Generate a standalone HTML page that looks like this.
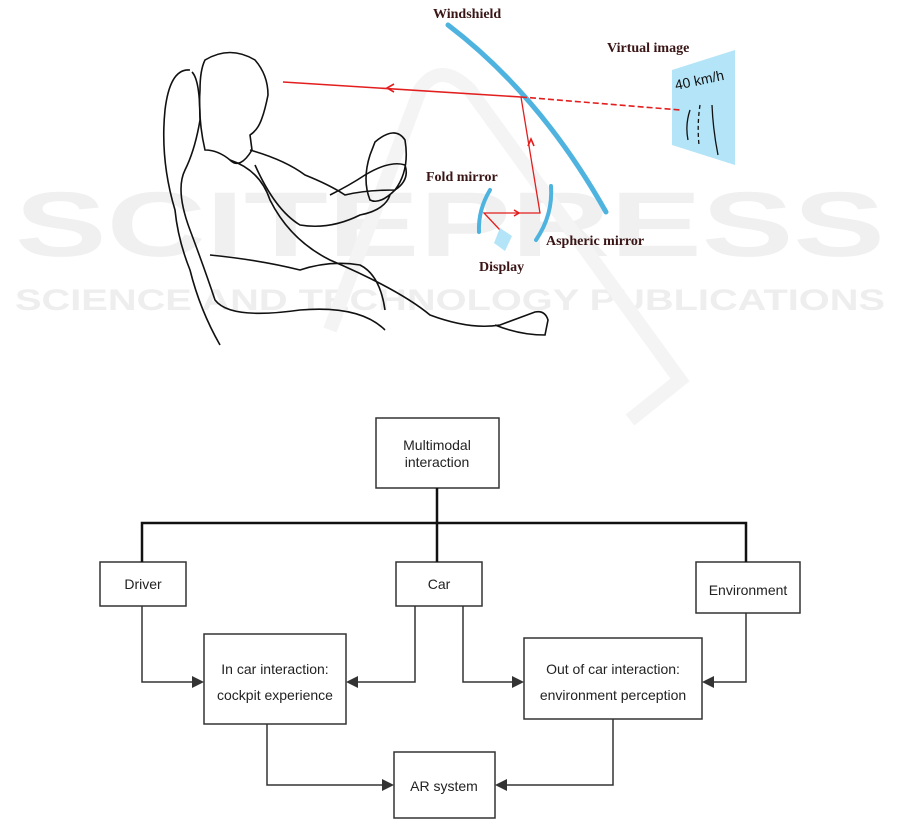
<!DOCTYPE html>
<html><head><meta charset="utf-8"><style>
html,body{margin:0;padding:0;background:#fff;}
body{width:901px;height:821px;position:relative;overflow:hidden;font-family:"Liberation Sans",sans-serif;}
</style></head><body>
<svg width="901" height="821" viewBox="0 0 901 821" xmlns="http://www.w3.org/2000/svg" style="position:absolute;left:0;top:0">
<!-- watermark -->
<text x="450" y="256" text-anchor="middle" font-family="Liberation Sans" font-weight="bold" font-size="92" fill="#f0f0f0" textLength="870" lengthAdjust="spacingAndGlyphs">SCITEPRESS</text>
<text x="450" y="310" text-anchor="middle" font-family="Liberation Sans" font-weight="bold" font-size="30" fill="#eeeeee" textLength="870" lengthAdjust="spacingAndGlyphs">SCIENCE AND TECHNOLOGY PUBLICATIONS</text>
<path d="M330 330 L420 90 Q440 60 470 90 L680 380 L630 420" fill="none" stroke="#f4f4f4" stroke-width="14"/>
<!-- person / seat sketch -->
<g fill="none" stroke="#111" stroke-width="1.6">
<path d="M190 70 Q170 68 165 110 Q160 160 175 210 Q178 240 190 270 Q200 310 220 345"/>
<path d="M192 72 Q200 80 200 120 Q195 150 185 170 Q175 190 190 230 Q205 270 215 300 Q230 320 300 310 Q360 305 385 330"/>
<path d="M205 60 Q230 45 255 60 Q268 75 268 95 Q265 110 262 118 Q258 130 250 135 L252 150 Q240 170 230 160 Q218 150 205 150 Q198 120 200 90 Q200 70 205 60Z"/>
<path d="M230 160 Q260 170 270 200 Q290 240 330 260 Q400 290 430 315 Q470 330 500 325 L535 312 Q545 310 548 320 L545 335 Q520 335 495 325"/>
<path d="M250 150 Q285 160 305 175 Q330 185 345 195 Q365 190 395 190 Q410 180 405 165 Q390 160 365 175 Q350 185 330 195"/>
<path d="M255 165 Q275 210 300 225 Q330 230 360 215 Q385 210 390 195"/>
<path d="M375 142 Q395 125 405 140 Q410 170 395 190 Q380 205 370 200 Q362 180 370 155 Z"/>
<path d="M210 255 Q260 260 300 270 Q330 260 360 265 Q380 275 385 310"/>
</g>
<!-- windshield -->
<path d="M448 25 Q540 95 606 212" fill="none" stroke="#4fb3df" stroke-width="5" stroke-linecap="round"/>
<!-- virtual image -->
<polygon points="672,70 735,50 735,165 672,145" fill="#b3e4f7"/>
<text x="676" y="90" font-family="Liberation Sans" font-size="14" fill="#111" transform="rotate(-12 676 90)">40 km/h</text>
<g fill="none" stroke="#111" stroke-width="1.3">
<path d="M690 110 Q685 125 688 140"/><path d="M700 105 Q697 125 699 145" stroke-dasharray="4 3"/><path d="M712 105 Q713 130 718 155"/>
</g>
<!-- red rays -->
<g stroke="#e31e1e" fill="none" stroke-width="1.6">
<line x1="283" y1="82" x2="521" y2="97"/>
<line x1="521" y1="97" x2="680" y2="110" stroke-dasharray="6 3"/>
<polyline points="521,97 540,213 484,213 500,230" stroke-width="1.3"/>
<path d="M394 84 L387 88 L394 92"/>
<path d="M528 146 L531 139 L534 146"/>
<path d="M514 210 L519 213 L514 216"/>
</g>
<!-- mirrors -->
<path d="M490 190 Q478 210 479 232" fill="none" stroke="#4fb3df" stroke-width="4" stroke-linecap="round"/>
<path d="M551 186 Q553 215 536 240" fill="none" stroke="#4fb3df" stroke-width="4" stroke-linecap="round"/>
<polygon points="500,228 512,236 505,251 494,243" fill="#b3e4f7"/>
<g font-family="Liberation Serif" font-weight="bold" font-size="14" fill="#3a1515">
<text x="433" y="18">Windshield</text>
<text x="607" y="52">Virtual image</text>
<text x="426" y="181">Fold mirror</text>
<text x="546" y="245">Aspheric mirror</text>
<text x="479" y="271">Display</text>
</g>
<!-- flowchart -->
<g fill="#fff" stroke="#333" stroke-width="1.5">
<rect x="376" y="418" width="123" height="70"/>
<rect x="100" y="562" width="86" height="44"/>
<rect x="396" y="562" width="86" height="44"/>
<rect x="696" y="562" width="104" height="51"/>
<rect x="204" y="634" width="142" height="90"/>
<rect x="524" y="638" width="178" height="81"/>
<rect x="394" y="752" width="101" height="66"/>
</g>
<g stroke="#111" stroke-width="2.5" fill="none">
<line x1="437" y1="488" x2="437" y2="562"/>
<polyline points="142,562 142,523 746,523 746,562"/>
</g>
<g stroke="#333" stroke-width="1.5" fill="none">
<polyline points="142,606 142,682 196,682"/>
<polyline points="415,606 415,682 354,682"/>
<polyline points="463,606 463,682 516,682"/>
<polyline points="746,613 746,682 710,682"/>
<polyline points="267,724 267,785 386,785"/>
<polyline points="613,719 613,785 503,785"/>
</g>
<g fill="#333">
<polygon points="204,682 192,676 192,688"/>
<polygon points="346,682 358,676 358,688"/>
<polygon points="524,682 512,676 512,688"/>
<polygon points="702,682 714,676 714,688"/>
<polygon points="394,785 382,779 382,791"/>
<polygon points="495,785 507,779 507,791"/>
</g>
<g font-family="Liberation Sans" font-size="14" fill="#222" text-anchor="middle">
<text x="437" y="450">Multimodal</text><text x="437" y="467">interaction</text>
<text x="143" y="589">Driver</text>
<text x="439" y="589">Car</text>
<text x="748" y="595">Environment</text>
<text x="275" y="674">In car interaction:</text><text x="275" y="700">cockpit experience</text>
<text x="613" y="674">Out of car interaction:</text><text x="613" y="700">environment perception</text>
<text x="444" y="791">AR system</text>
</g>
</svg>
</body></html>
